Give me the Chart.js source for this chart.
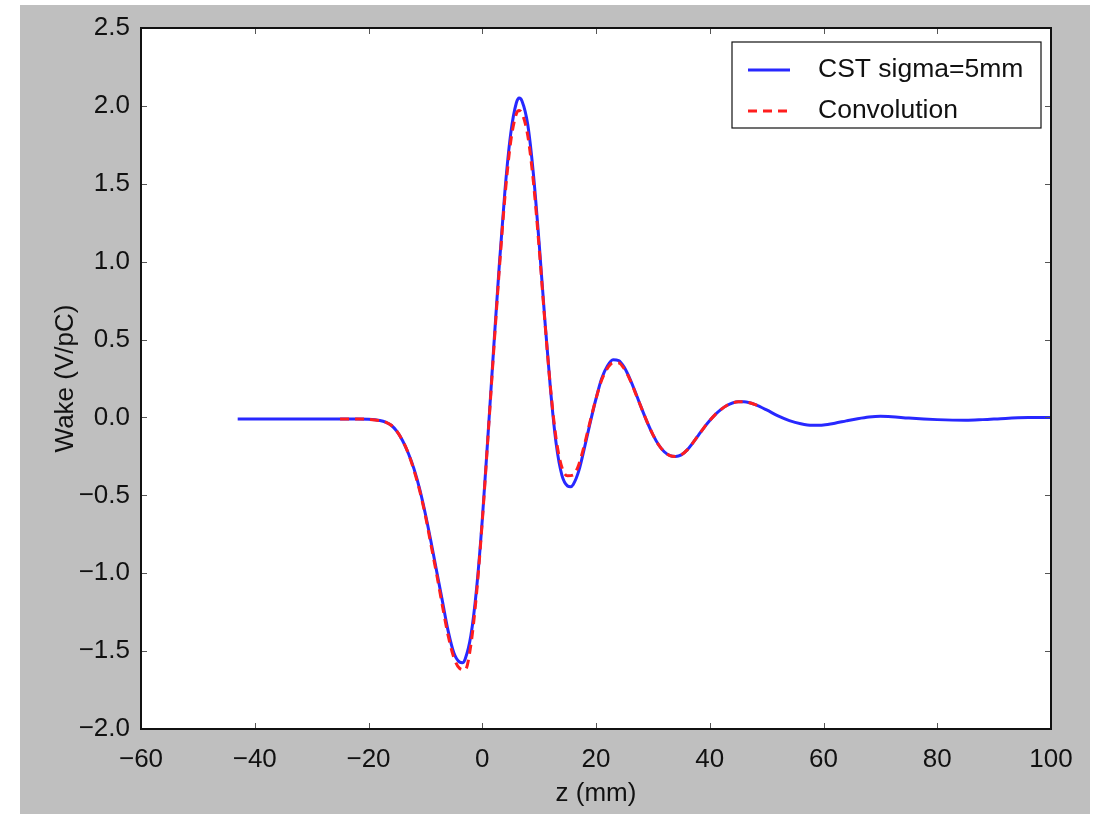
<!DOCTYPE html>
<html>
<head>
<meta charset="utf-8">
<script src="https://cdn.jsdelivr.net/npm/chart.js@4/dist/chart.umd.min.js"></script>
<style>
  html, body { margin: 0; padding: 0; background: #ffffff; }
  #wrap { position: absolute; left: 20px; top: 5px; width: 1070px; height: 809px; background: #bfbfbf; }
  canvas { display: block; }
</style>
</head>
<body>
<div id="wrap"><canvas id="c" width="1070" height="809"></canvas></div>
<script>
// ---- data ----
const seriesNames = ["CST sigma=5mm", "Convolution"];

const zCST = [-43,-35,-30,-25,-22,-20,-18,-17,-16,-15,-14,-13,-12,-11,-10,-9,-8,-7,-6,-5,-4,-3.5,-3,-2,-1,0,1,2,3,4,5,6,6.5,7,8,9,10,11,12,13,14,15,15.5,16,17,18,19,20,21,22,23,24,25,26,27,28,29,30,31,32,33,34,35,36,37,38,39,40,41,42,43,44,45,46,47,48,50,52,54,56,58,60,62,64,66,68,70,72,75,80,85,88,92,96,100];
const wakeCST = [-0.01,-0.01,-0.01,-0.01,-0.01,-0.012,-0.02,-0.03,-0.05,-0.09,-0.15,-0.23,-0.33,-0.46,-0.62,-0.80,-0.99,-1.18,-1.37,-1.51,-1.57,-1.575,-1.55,-1.40,-1.10,-0.66,-0.12,0.44,0.98,1.46,1.82,2.02,2.05,2.03,1.88,1.56,1.12,0.63,0.18,-0.17,-0.37,-0.44,-0.445,-0.43,-0.34,-0.19,-0.03,0.12,0.25,0.33,0.37,0.365,0.32,0.245,0.155,0.06,-0.03,-0.11,-0.175,-0.22,-0.245,-0.25,-0.24,-0.21,-0.165,-0.115,-0.065,-0.02,0.02,0.052,0.077,0.093,0.1,0.1,0.094,0.082,0.048,0.01,-0.02,-0.04,-0.05,-0.048,-0.037,-0.022,-0.008,0.003,0.008,0.005,-0.004,-0.014,-0.018,-0.014,-0.006,-0.001,0.0];

const zConv = [-25,-22,-20,-18,-17,-16,-15,-14,-13,-12,-11,-10,-9,-8,-7,-6,-5,-4,-3,-2,-1,0,1,2,3,4,5,6,6.5,7,8,9,10,11,12,13,14,15,16,17,18,19,20,21,22,23,24,25,26,27,28,29,30,31,32,33,34,35,36,37,38,39,40,41,42,43,44,45,46,47,48,49];
const wakeConv = [-0.01,-0.01,-0.012,-0.02,-0.03,-0.05,-0.09,-0.15,-0.23,-0.34,-0.47,-0.63,-0.82,-1.01,-1.21,-1.40,-1.54,-1.61,-1.62,-1.46,-1.13,-0.67,-0.13,0.42,0.95,1.42,1.77,1.95,1.97,1.95,1.81,1.51,1.09,0.62,0.19,-0.14,-0.32,-0.375,-0.37,-0.30,-0.17,-0.02,0.12,0.24,0.315,0.35,0.35,0.31,0.24,0.15,0.06,-0.03,-0.11,-0.175,-0.22,-0.245,-0.25,-0.24,-0.21,-0.165,-0.115,-0.065,-0.02,0.02,0.052,0.077,0.093,0.1,0.1,0.094,0.082,0.066];

const xTickValues = [-60,-40,-20,0,20,40,60,80,100];
const xTickLabels = ["\u221260","\u221240","\u221220","0","20","40","60","80","100"];
const yTickValues = [-2.0,-1.5,-1.0,-0.5,0.0,0.5,1.0,1.5,2.0,2.5];
const yTickLabels = ["\u22122.0","\u22121.5","\u22121.0","\u22120.5","0.0","0.5","1.0","1.5","2.0","2.5"];
const xTitle = "z (mm)";
const yTitle = "Wake (V/pC)";

// ---- chart ----
const FONT = "'Liberation Sans', Arial, Helvetica, sans-serif";
const TEXT = "#111111";

const toPoints = (xs, ys) => xs.map((x, i) => ({x: x, y: ys[i]}));

const frameAndTicks = {
  id: 'frameAndTicks',
  beforeDraw(chart) {
    const a = chart.chartArea, ctx = chart.ctx;
    ctx.save();
    ctx.fillStyle = '#ffffff';
    ctx.fillRect(a.left, a.top, a.right - a.left, a.bottom - a.top);
    ctx.restore();
  },
  afterDraw(chart) {
    const a = chart.chartArea, ctx = chart.ctx;
    const xs = chart.scales.x, ys = chart.scales.y;
    ctx.save();
    ctx.strokeStyle = '#555';
    ctx.lineWidth = 1;
    ctx.beginPath();
    xs.ticks.forEach(t => {
      const p = Math.round(xs.getPixelForValue(t.value)) + 0.5;
      ctx.moveTo(p, a.bottom); ctx.lineTo(p, a.bottom - 6);
      ctx.moveTo(p, a.top); ctx.lineTo(p, a.top + 6);
    });
    ys.ticks.forEach(t => {
      const p = Math.round(ys.getPixelForValue(t.value)) + 0.5;
      ctx.moveTo(a.left, p); ctx.lineTo(a.left + 6, p);
      ctx.moveTo(a.right, p); ctx.lineTo(a.right - 6, p);
    });
    ctx.stroke();
    ctx.strokeStyle = '#111';
    ctx.lineWidth = 2;
    ctx.strokeRect(a.left, a.top, a.right - a.left, a.bottom - a.top);

    // legend
    const bw = 309, bh = 86;
    const bx = a.right - 10 - bw, by = a.top + 14;
    ctx.fillStyle = '#fff';
    ctx.fillRect(bx, by, bw, bh);
    ctx.strokeStyle = '#111';
    ctx.lineWidth = 1.2;
    ctx.strokeRect(bx, by, bw, bh);
    const rows = [28, 69];
    chart.data.datasets.forEach((ds, i) => {
      const yy = by + rows[i];
      ctx.save();
      ctx.strokeStyle = ds.borderColor;
      ctx.lineWidth = ds.borderWidth;
      ctx.setLineDash(ds.borderDash || []);
      ctx.beginPath();
      ctx.moveTo(bx + 16, yy); ctx.lineTo(bx + 58, yy);
      ctx.stroke();
      ctx.restore();
      ctx.fillStyle = TEXT;
      ctx.font = "26.5px " + FONT;
      ctx.textBaseline = 'middle';
      ctx.textAlign = 'left';
      ctx.fillText(ds.label, bx + 86, yy);
    });
    ctx.restore();
  }
};

new Chart(document.getElementById('c'), {
  type: 'scatter',
  data: {
    datasets: [
      {
        label: seriesNames[0],
        data: toPoints(zCST, wakeCST),
        showLine: true,
        borderColor: 'rgb(40,40,255)',
        backgroundColor: 'rgb(40,40,255)',
        borderWidth: 3,
        pointRadius: 0,
        cubicInterpolationMode: 'monotone',
        order: 2
      },
      {
        label: seriesNames[1],
        data: toPoints(zConv, wakeConv),
        showLine: true,
        borderColor: 'rgb(255,30,30)',
        backgroundColor: 'rgb(255,30,30)',
        borderWidth: 3,
        borderDash: [9, 6],
        pointRadius: 0,
        cubicInterpolationMode: 'monotone',
        order: 1
      }
    ]
  },
  options: {
    responsive: false,
    animation: false,
    events: [],
    layout: { padding: { left: 0, right: 39, top: 23, bottom: 0 } },
    plugins: { legend: { display: false }, tooltip: { enabled: false } },
    scales: {
      x: {
        type: 'linear',
        min: -60, max: 100,
        afterBuildTicks(scale) { scale.ticks = xTickValues.map(v => ({value: v})); },
        afterFit(scale) { scale.height = 85; scale.paddingLeft = 0; scale.paddingRight = 0; },
        grid: { display: false, drawTicks: false },
        border: { display: false },
        ticks: {
          autoSkip: false, maxRotation: 0, padding: 15,
          color: TEXT, font: { family: FONT, size: 26 },
          callback: (v, i) => xTickLabels[i]
        },
        title: { display: true, text: xTitle, color: TEXT, font: { family: FONT, size: 26 }, padding: { top: 0, bottom: 5 } }
      },
      y: {
        type: 'linear',
        min: -2.0, max: 2.5,
        afterBuildTicks(scale) { scale.ticks = yTickValues.map(v => ({value: v})); },
        afterFit(scale) { scale.width = 121; scale.paddingTop = 0; scale.paddingBottom = 0; },
        grid: { display: false, drawTicks: false },
        border: { display: false },
        ticks: {
          autoSkip: false, padding: 11,
          color: TEXT, font: { family: FONT, size: 26 },
          callback: (v, i) => yTickLabels[i]
        },
        title: { display: true, text: yTitle, color: TEXT, font: { family: FONT, size: 26 }, padding: { top: 30, bottom: 0 } }
      }
    }
  },
  plugins: [frameAndTicks]
});
</script>
</body>
</html>
